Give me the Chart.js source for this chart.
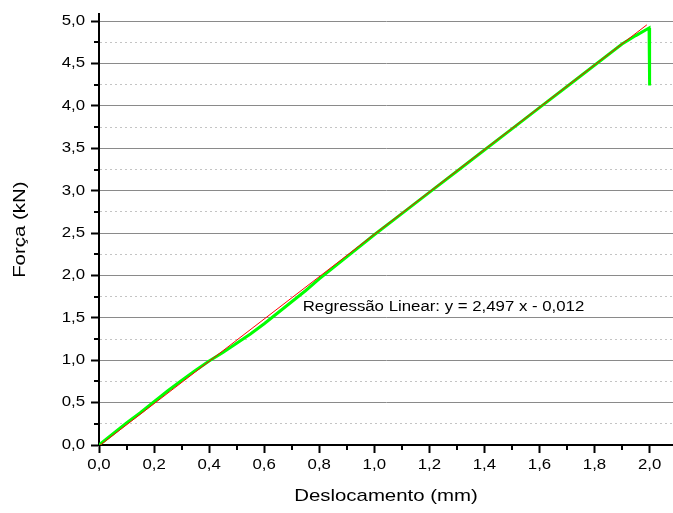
<!DOCTYPE html>
<html>
<head>
<meta charset="utf-8">
<script src="https://cdn.jsdelivr.net/npm/chart.js@4"></script>
<style>
    body { margin: 0; background: #fff; }
    #wrap { width: 673px; height: 513px; }
</style>
</head>
<body>
<div id="wrap"><canvas id="myChart"></canvas></div>
<script>
// ensaio: deslocamento (mm) x força (kN)
const dispX = [0, 0.05, 0.1, 0.15, 0.2, 0.25, 0.3, 0.35, 0.4, 0.45, 0.5, 0.55, 0.6, 0.65, 0.7, 0.75, 0.8, 0.9, 1.0, 1.1, 1.2, 1.3, 1.4, 1.5, 1.6, 1.7, 1.8, 1.9, 1.95, 1.998, 2.0];
const force = [0, 0.13, 0.26, 0.38, 0.51, 0.64, 0.76, 0.88, 0.99, 1.09, 1.2, 1.31, 1.43, 1.56, 1.69, 1.82, 1.96, 2.22, 2.48, 2.73, 2.98, 3.23, 3.48, 3.73, 3.98, 4.23, 4.48, 4.73, 4.83, 4.92, 4.24];

// regressão linear (extremos da reta)
const fitX = [0, 1.99];
const fitY = [-0.012, 4.957];

const fitLabel = 'Regressão Linear: y = 2,497 x - 0,012';
const fitLabelPos = [0.74, 1.63];

const STRETCH = 1.2; // fonte do original é mais larga

const toPoints = (xs, ys) => xs.map((x, i) => ({ x: x, y: ys[i] }));
const fmt = v => v.toFixed(1).replace('.', ',');
const isMajorX = v => Math.round(v * 10) % 2 === 0;
const isMajorY = v => Math.round(v * 4) % 2 === 0;

const wideText = {
    id: 'wideText',
    beforeInit(chart) {
        const ctx = chart.ctx;
        const fill = ctx.fillText.bind(ctx);
        ctx.fillText = function (text, x, y) {
            ctx.save();
            ctx.translate(x, y);
            ctx.scale(STRETCH, 1);
            fill(text, 0, 0);
            ctx.restore();
        };
    }
};

const extras = {
    id: 'extras',
    afterDraw(chart) {
        const ctx = chart.ctx;
        const xs = chart.scales.x;
        const ys = chart.scales.y;
        ctx.save();
        ctx.strokeStyle = '#000';
        ctx.lineWidth = 2;
        ctx.beginPath();
        xs.ticks.forEach(t => {
            if (isMajorX(t.value)) return;
            const px = Math.round(xs.getPixelForValue(t.value));
            ctx.moveTo(px, chart.chartArea.bottom);
            ctx.lineTo(px, chart.chartArea.bottom + 5);
        });
        ys.ticks.forEach(t => {
            if (isMajorY(t.value)) return;
            const py = Math.round(ys.getPixelForValue(t.value));
            ctx.moveTo(chart.chartArea.left, py);
            ctx.lineTo(chart.chartArea.left - 5, py);
        });
        ctx.stroke();

        ctx.fillStyle = '#000';
        ctx.font = '14px "Liberation Sans", Arial, sans-serif';
        ctx.textAlign = 'left';
        ctx.textBaseline = 'middle';
        ctx.fillText(fitLabel, xs.getPixelForValue(fitLabelPos[0]), ys.getPixelForValue(fitLabelPos[1]));
        ctx.restore();
    }
};

const tickFont = { family: '"Liberation Sans", Arial, sans-serif', size: 14 };
const titleFont = { family: '"Liberation Sans", Arial, sans-serif', size: 17 };

const ctx = document.getElementById('myChart').getContext('2d');
const myChart = new Chart(ctx, {
    type: 'scatter',
    data: {
        datasets: [{
            label: 'Regressão',
            data: toPoints(fitX, fitY),
            showLine: true,
            borderColor: '#ff0000',
            borderWidth: 1,
            pointRadius: 0,
            order: 0
        }, {
            label: 'Ensaio',
            data: toPoints(dispX, force),
            showLine: true,
            borderColor: '#00ff00',
            borderWidth: 3,
            pointRadius: 0,
            order: 1
        }]
    },
    options: {
        responsive: true,
        maintainAspectRatio: false,
        animation: false,
        layout: { padding: { top: 12, right: 0, left: 0, bottom: 0 } },
        plugins: {
            legend: { display: false },
            tooltip: { enabled: false }
        },
        scales: {
            x: {
                type: 'linear',
                min: 0,
                max: 2.085,
                afterFit(scale) { scale.height = 68; },
                ticks: {
                    stepSize: 0.1,
                    includeBounds: false,
                    autoSkip: false,
                    maxRotation: 0,
                    padding: 4,
                    color: '#000',
                    font: tickFont,
                    callback: v => isMajorX(v) ? fmt(v) : ''
                },
                grid: {
                    drawOnChartArea: false,
                    tickLength: 8,
                    tickWidth: 2,
                    tickColor: c => isMajorX(c.tick.value) ? '#000' : 'rgba(0,0,0,0)'
                },
                border: { color: '#000', width: 2 },
                title: {
                    display: true,
                    text: 'Deslocamento (mm)',
                    color: '#000',
                    font: titleFont,
                    padding: { top: 0, bottom: 6 }
                }
            },
            y: {
                type: 'linear',
                min: 0,
                max: 5.08,
                afterFit(scale) { scale.width = 99; },
                ticks: {
                    stepSize: 0.25,
                    includeBounds: false,
                    autoSkip: false,
                    padding: 6,
                    color: '#000',
                    font: tickFont,
                    callback: v => isMajorY(v) ? fmt(v) : ''
                },
                grid: {
                    color: c => c.tick.value === 0 ? 'rgba(0,0,0,0)' : (isMajorY(c.tick.value) ? '#8a8a8a' : '#c4c4c4'),
                    lineWidth: 1,
                    tickLength: 8,
                    tickWidth: 2,
                    tickColor: c => isMajorY(c.tick.value) ? '#000' : 'rgba(0,0,0,0)'
                },
                border: {
                    color: '#000',
                    width: 2,
                    dash: c => (c.tick && !isMajorY(c.tick.value)) ? [2, 3] : []
                },
                title: {
                    display: true,
                    text: 'Força (kN)',
                    color: '#000',
                    font: titleFont,
                    padding: { top: 10, bottom: 0 }
                }
            }
        }
    },
    plugins: [wideText, extras]
});
</script>
</body>
</html>
